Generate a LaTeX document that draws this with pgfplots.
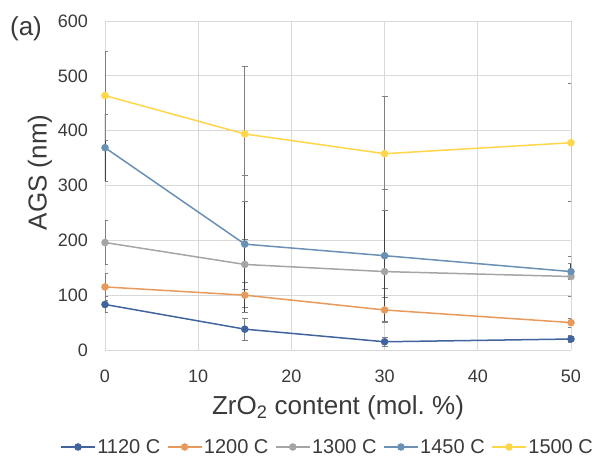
\documentclass[border=0pt]{standalone}
\usepackage{pgfplots}
\pgfplotsset{compat=1.18}
\usepackage{fontspec}
\setmainfont{Liberation Sans}
\definecolor{c1120}{HTML}{41649F}
\definecolor{c1200}{HTML}{E89A5C}
\definecolor{c1300}{HTML}{A5A5A5}
\definecolor{c1450}{HTML}{6A90B6}
\definecolor{c1500}{HTML}{FFD54A}
\definecolor{txt}{HTML}{3A3A3A}
\definecolor{gridc}{HTML}{D9D9D9}
\begin{document}
\begin{tikzpicture}
\begin{axis}[
  scale only axis, width=466pt, height=329pt,
  xmin=0, xmax=50, ymin=0, ymax=600,
  xtick={0,10,...,50}, ytick={0,100,...,600},
  /pgf/number format/assume math mode=true,
  major tick length=0pt,
  grid=major, major grid style={draw=gridc, line width=0.8pt},
  axis lines=left, axis line style={-, draw=gridc, line width=0.8pt},
  tick label style={font=\fontsize{18}{20}\selectfont, text=txt},
  yticklabel style={anchor=east, inner sep=0pt, xshift=-17pt},
  xticklabel style={anchor=north, inner sep=0pt, yshift=-20pt},
  xlabel={ZrO\textsubscript{2} content (mol.\ \%)},
  ylabel={AGS (nm)},
  every axis x label/.style={at={(axis description cs:0.5,0)}, anchor=center, yshift=-58pt,
    font=\fontsize{26}{28}\selectfont, text=txt},
  every axis y label/.style={at={(axis description cs:0,0.54)}, anchor=center, rotate=90, yshift=65pt,
    font=\fontsize{26}{28}\selectfont, text=txt},
  legend columns=5,
  legend style={at={(axis description cs:0.477,0)}, anchor=center, yshift=-97pt, draw=none, fill=none,
    font=\fontsize{20}{22}\selectfont, text=txt, nodes={inner sep=1.5pt},
    /tikz/every even column/.append style={column sep=5pt}},
  legend image code/.code={\draw[mark repeat=2, mark phase=2] plot coordinates {(0cm,0cm) (0.6cm,0cm) (1.2cm,0cm)};},
  every axis plot/.append style={line width=1.5pt, mark=*, mark size=3pt},
  error bars/y dir=both, error bars/y explicit,
  error bars/error bar style={line width=0.9pt, color=gray},
  error bars/error mark options={rotate=90, mark size=3pt, line width=0.9pt, color=gray},
]
\addplot[c1120, mark options={fill=c1120}] coordinates {(0,83) +- (0,15) (15,38) +- (0,20) (30,15) +- (0,8) (50,20) +- (0,6)};
\addlegendentry{1120 C}
\addplot[c1200, mark options={fill=c1200}] coordinates {(0,115) +- (0,25) (15,100) +- (0,23) (30,73) +- (0,22) (50,50) +- (0,8)};
\addlegendentry{1200 C}
\addplot[c1300, mark options={fill=c1300}] coordinates {(0,196) +- (0,40) (15,156) +- (0,45) (30,143) +- (0,30) (50,134) +- (0,37)};
\addlegendentry{1300 C}
\addplot[c1450, mark options={fill=c1450},
  error bars/error bar style={line width=1.1pt, color=black!75}] coordinates {(0,369) +- (0,61) (15,193) +- (0,125) (30,172) +- (0,120) (50,143) +- (0,15)};
\addlegendentry{1450 C}
\addplot[c1500, mark options={fill=c1500}] coordinates {(0,464) +- (0,81) (15,394) +- (0,123) (30,358) +- (0,104) (50,378) +- (0,108)};
\addlegendentry{1500 C}
\coordinate (SW) at (rel axis cs:0,0);
\coordinate (NW) at (rel axis cs:0,1);
\coordinate (NE) at (rel axis cs:1,1);
\end{axis}
\node[font=\fontsize{26}{28}\selectfont, text=txt, anchor=center] at ([xshift=-79pt,yshift=-8pt]NW) {(a)};
\pgfresetboundingbox
\path ([xshift=-105pt,yshift=-116pt]SW) rectangle ([xshift=31pt,yshift=21pt]NE);
\end{tikzpicture}
\end{document}
